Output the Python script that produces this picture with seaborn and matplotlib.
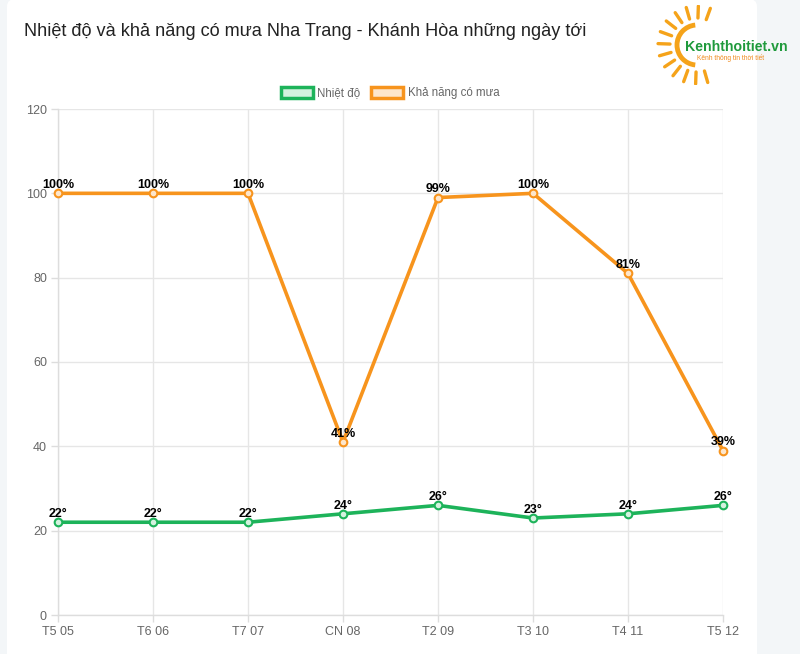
import numpy as np
import pandas as pd
import matplotlib
matplotlib.use('Agg')
import matplotlib.pyplot as plt
import seaborn as sns
from matplotlib.patches import Rectangle, FancyBboxPatch, Arc
from matplotlib.lines import Line2D

# ── data
days = ['T5 05', 'T6 06', 'T7 07', 'CN 08', 'T2 09', 'T3 10', 'T4 11', 'T5 12']
temperature = [22, 22, 22, 24, 26, 23, 24, 26]
rain_chance = [100, 100, 100, 41, 99, 100, 81, 39]
y_ticks = [0, 20, 40, 60, 80, 100, 120]

title = 'Nhiệt độ và khả năng có mưa Nha Trang - Khánh Hòa những ngày tới'
series_names = ['Nhiệt độ', 'Khả năng có mưa']

GREEN = '#1db35a'
ORANGE = '#f7941d'
GREEN_FILL = '#d4f2df'
ORANGE_FILL = '#fde6cc'

sns.set_theme(style='white')
plt.rcParams['font.family'] = ['Liberation Sans', 'DejaVu Sans']

fig = plt.figure(figsize=(8, 6.54), dpi=100)
fig.patch.set_facecolor('#f3f6f8')

# white card behind the chart
card = FancyBboxPatch((7 / 800, -0.05), 750 / 800, 1.052, transform=fig.transFigure,
                      boxstyle='round,pad=0,rounding_size=0.012',
                      facecolor='white', edgecolor='none', zorder=-10)
fig.patches.append(card)

ax = fig.add_axes([58 / 800, 1 - 615 / 654, 665 / 800, (615 - 109) / 654])
ax.set_facecolor('none')

df = pd.DataFrame({'day': days, 'x': np.arange(len(days)),
                   'temp': temperature, 'rain': rain_chance})

sns.lineplot(data=df, x='x', y='rain', ax=ax, color=ORANGE, linewidth=2.6,
             marker='o', markersize=5.5, markerfacecolor=ORANGE_FILL,
             markeredgecolor=ORANGE, markeredgewidth=1.5, clip_on=False, zorder=3)
sns.lineplot(data=df, x='x', y='temp', ax=ax, color=GREEN, linewidth=2.6,
             marker='o', markersize=5.5, markerfacecolor=GREEN_FILL,
             markeredgecolor=GREEN, markeredgewidth=1.5, clip_on=False, zorder=3)

# data labels
for xi, v in zip(df['x'], rain_chance):
    ax.annotate(f'{v}%', (xi, v), xytext=(0, 1.5), textcoords='offset points',
                ha='center', va='bottom', fontsize=9, fontweight='bold',
                color='black', zorder=5, annotation_clip=False)
for xi, v in zip(df['x'], temperature):
    ax.annotate(f'{v}°', (xi, v), xytext=(0, 1.5), textcoords='offset points',
                ha='center', va='bottom', fontsize=9, fontweight='bold',
                color='black', zorder=5, annotation_clip=False)

ax.set_xlim(0, len(days) - 1)
ax.set_ylim(0, 120)
ax.set_xticks(df['x'])
ax.set_xticklabels(days)
ax.set_yticks(y_ticks)
ax.set_xlabel('')
ax.set_ylabel('')
ax.grid(True, color='#e6e6e6', linewidth=1)
ax.tick_params(axis='both', colors='#dddddd', labelcolor='#666666', labelsize=9,
               length=5, width=1, direction='out', pad=3, left=True, bottom=True)
for side in ['top', 'right']:
    ax.spines[side].set_visible(False)
for side in ['left', 'bottom']:
    ax.spines[side].set_color('#dddddd')
    ax.spines[side].set_linewidth(1)

# title
fig.text(24 / 800, 1 - 31 / 654, title, fontsize=13.1, color='#222222',
         ha='left', va='center')

# legend
handles = [Rectangle((0, 0), 1, 1, facecolor=GREEN_FILL, edgecolor=GREEN, linewidth=2.5),
           Rectangle((0, 0), 1, 1, facecolor=ORANGE_FILL, edgecolor=ORANGE, linewidth=2.5)]
fig.legend(handles, series_names, loc='center', bbox_to_anchor=(390 / 800, 1 - 93 / 654),
           ncol=2, frameon=False, fontsize=8.3, handlelength=2.8, handleheight=1.2,
           handletextpad=0.4, columnspacing=0.9, labelcolor='#666666')

# logo: sun + site name
logo = fig.add_axes([640 / 800, 1 - 85 / 654, 150 / 800, 80 / 654])
logo.set_xlim(640, 790)
logo.set_ylim(85, 5)
logo.axis('off')
cx, cy, r = 697, 45, 20
logo.add_patch(Arc((cx, cy), 2 * r, 2 * r, theta1=95, theta2=265, color='#f5a31a', lw=3.5))
for ang in np.arange(70, 300, 18):
    a = np.deg2rad(ang)
    r1, r2 = r + 7, r + 19
    logo.add_line(Line2D([cx + r1 * np.cos(a), cx + r2 * np.cos(a)],
                         [cy - r1 * np.sin(a), cy - r2 * np.sin(a)],
                         color='#f5a31a', lw=2.4, solid_capstyle='round'))
logo.text(685, 47, 'Kenhthoitiet.vn', color='#1f9a3c', fontsize=10.2,
          fontweight='bold', ha='left', va='center')
logo.text(697, 58, 'Kênh thông tin thời tiết', color='#f08a1c', fontsize=4.8,
          ha='left', va='center')

fig.savefig('out.png', dpi=100, facecolor=fig.get_facecolor())
